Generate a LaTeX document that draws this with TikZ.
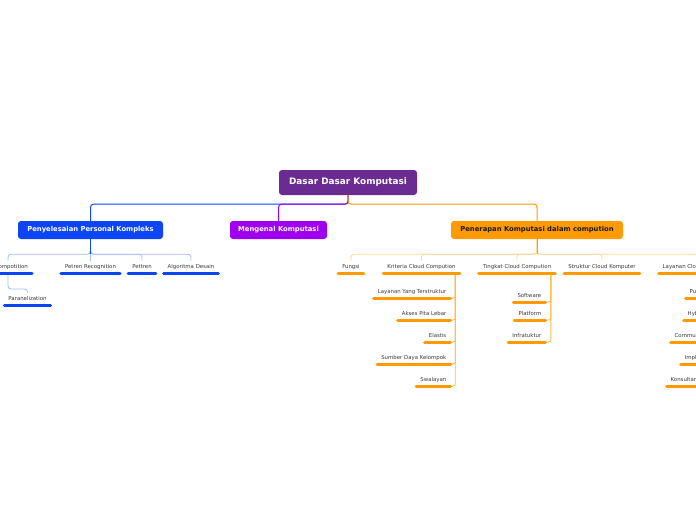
\documentclass[tikz,border=0pt]{standalone}
\usepackage{fontspec}
\setmainfont{DejaVu Sans}
\definecolor{rootc}{HTML}{6A2C91}
\definecolor{bluec}{HTML}{0B45F5}
\definecolor{purpc}{HTML}{A000F0}
\definecolor{orc}{HTML}{FF9A00}
\definecolor{lblue}{HTML}{A9BDF8}
\definecolor{lor}{HTML}{FFD796}
\definecolor{mor}{HTML}{FFBA4A}
\definecolor{lbl}{HTML}{3A3A3A}
\begin{document}
\begin{tikzpicture}[x=1pt,y=-1pt,
  rootbox/.style={fill=rootc, rounded corners=3pt, minimum width=138pt, minimum height=25pt, inner sep=0pt, text=white, font=\fontsize{8.9}{10}\selectfont\bfseries},
  mainbox/.style={rounded corners=3pt, minimum height=18pt, inner sep=0pt, font=\fontsize{6.8}{8}\selectfont\bfseries},
  leaf/.style={font=\fontsize{5.4}{6}\selectfont, text=lbl, inner xsep=4pt, inner ysep=3.5pt, text height=3.9pt, text depth=1.1pt},
  ulb/.style={line width=3pt, line cap=round, draw=bluec},
  ulo/.style={line width=3pt, line cap=round, draw=orc},
  cb/.style={draw=bluec, line width=1pt, rounded corners=3pt},
  cp/.style={draw=purpc, line width=1pt, rounded corners=3pt},
  co/.style={draw=orc, line width=1pt, rounded corners=3pt},
  cbl/.style={draw=lblue, line width=0.9pt, rounded corners=3pt},
  col/.style={draw=lor, line width=0.9pt, rounded corners=3pt},
  com/.style={draw=mor, line width=0.9pt, rounded corners=2pt}
]
\useasboundingbox (0,0) rectangle (696,520);

% root and main topics
\node[rootbox] (root) at (348,182.5) {Dasar Dasar Komputasi};
\node[mainbox, fill=bluec, text=white, minimum width=145pt] (pen) at (90.5,230) {Penyelesaian Personal Kompleks};
\node[mainbox, fill=purpc, text=white, minimum width=97pt] (men) at (278.5,230) {Mengenal Komputasi};
\node[mainbox, fill=orc, text=black!90, minimum width=172pt] (ner) at (537,230) {Penerapan Komputasi dalam compution};

\draw[cb] (root.south) -- ++(0,9) -| (pen.north);
\draw[cp] (root.south) -- ++(0,9) -| (men.north);
\draw[co] (root.south) -- ++(0,9) -| (ner.north);

% blue branch
\node[leaf, anchor=south] (dec) at (8,273) {Decompotition};
\node[leaf, anchor=south] (pr) at (90.5,273) {Petren Recognition};
\node[leaf, anchor=south] (pt) at (142,273) {Pettren};
\node[leaf, anchor=south] (ad) at (191,273) {Algoritma Desain};
\node[leaf, anchor=south] (para) at (27.5,305) {Paranelization};
\foreach \c in {dec,pr,pt,ad} \draw[cbl] (pen.south) -- ++(0,15) -| (\c.north);
\draw[cb] (pen.south) -- ++(0,15);
\draw[cbl] (dec.south) -- ++(0,16) -| (para.north);
\foreach \c in {dec,pr,pt,ad,para} \draw[ulb] (\c.south west) -- (\c.south east);

% orange branch
\node[leaf, anchor=south] (fung) at (351,273) {Fungsi};
\node[leaf, anchor=south] (krit) at (421.5,273) {Kriteria Cloud Compution};
\node[leaf, anchor=south] (ting) at (517,273) {Tingkat Cloud Compution};
\node[leaf, anchor=south] (stru) at (602,273) {Struktur Cloud Komputer};
\node[leaf, anchor=south west] (lay) at (658.5,273) {Layanan Cloud Computing};
\foreach \c in {fung,krit,ting,stru,lay} \draw[col] (ner.south) -- ++(0,15) -| (\c.north);
\draw[co] (ner.south) -- ++(0,15);

% Kriteria children
\node[leaf, anchor=south east] (k1) at (450.5,298) {Layanan Yang Terstruktur};
\node[leaf, anchor=south east] (k2) at (450.5,320) {Akses Pita Lebar};
\node[leaf, anchor=south east] (k3) at (450.5,342) {Elastis};
\node[leaf, anchor=south east] (k4) at (450.5,364) {Sumber Daya Kelompok};
\node[leaf, anchor=south east] (k5) at (450.5,386) {Swalayan};
\foreach \c in {k1,k2,k3,k4,k5} \draw[com] ([xshift=-4.5pt]krit.south east) |- (\c.south east);

% Tingkat children
\node[leaf, anchor=south east] (t1) at (545.5,302) {Software};
\node[leaf, anchor=south east] (t2) at (545.5,320) {Platform};
\node[leaf, anchor=south east] (t3) at (545.5,342) {Infratuktur};
\foreach \c in {t1,t2,t3} \draw[com] ([xshift=-4.5pt]ting.south east) |- (\c.south east);

% Layanan children (cut by the edge)
\node[leaf, anchor=south west] (l1) at (685.5,298) {Public Cloud};
\node[leaf, anchor=south west] (l2) at (683.5,320) {Hybrid Cloud};
\node[leaf, anchor=south west] (l3) at (670.5,342) {Community Cloud};
\node[leaf, anchor=south west] (l4) at (680.5,364) {Implementasi};
\node[leaf, anchor=south west] (l5) at (666.5,386) {Konsultan Cloud};
\foreach \c in {l1,l2,l3,l4,l5} \draw[com] ([xshift=-4.5pt]lay.south east) |- (\c.south east);

\foreach \c in {fung,krit,ting,stru,lay,k1,k2,k3,k4,k5,t1,t2,t3,l1,l2,l3,l4,l5} \draw[ulo] (\c.south west) -- (\c.south east);
\end{tikzpicture}
\end{document}
